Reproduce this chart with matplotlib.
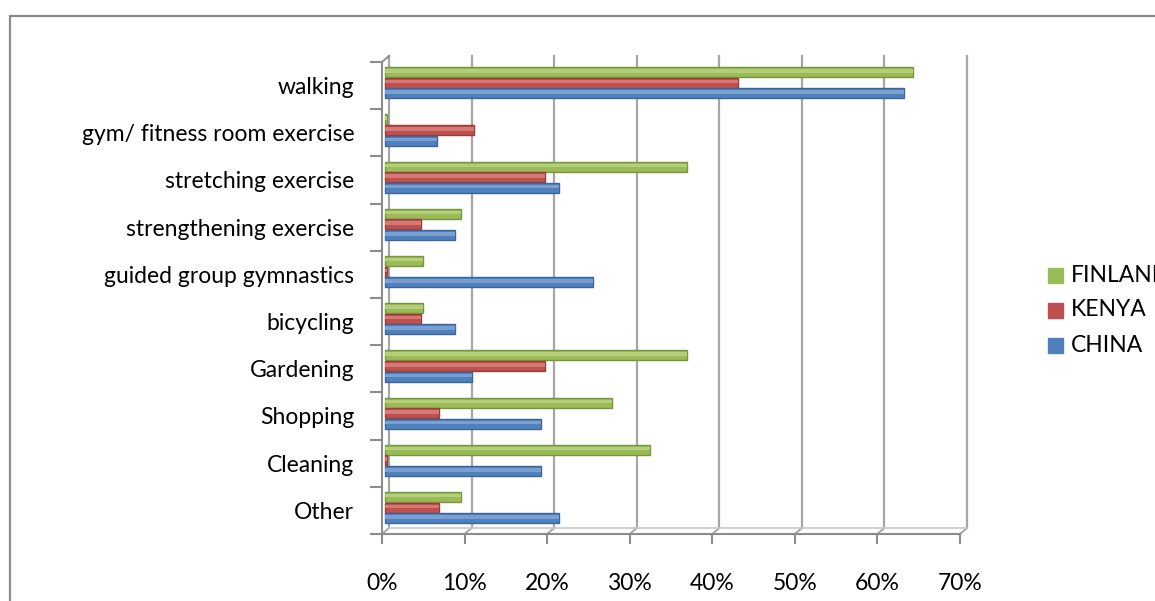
import matplotlib
matplotlib.use("Agg")
import matplotlib.pyplot as plt
import numpy as np
from matplotlib.patches import Rectangle
from matplotlib.transforms import blended_transform_factory, ScaledTranslation, IdentityTransform
from matplotlib.ticker import FixedLocator, PercentFormatter

# activities, bottom to top
categories = ['Other', 'Cleaning', 'Shopping', 'Gardening', 'bicycling',
              'guided group gymnastics', 'strengthening exercise',
              'stretching exercise', 'gym/ fitness room exercise', 'walking']
china = [21.1, 18.9, 18.9, 10.5, 8.5, 25.2, 8.5, 21.1, 6.3, 62.9]
kenya = [6.5, 0.3, 6.5, 19.4, 4.4, 0.3, 4.4, 19.4, 10.8, 42.8]
finland = [9.2, 32.1, 27.5, 36.6, 4.6, 4.6, 9.2, 36.6, 0.3, 63.9]
xticks = [0, 10, 20, 30, 40, 50, 60, 70]

colors = {'FINLAND': '#9BBB59', 'KENYA': '#C0504D', 'CHINA': '#4F81BD'}
edges = {'FINLAND': '#77963F', 'KENYA': '#983D3A', 'CHINA': '#3C659A'}
lights = {'FINLAND': '#B3CF7A', 'KENYA': '#D37A77', 'CHINA': '#79A0D0'}

plt.rcParams['font.family'] = ['Lato', 'DejaVu Sans']
fs = 16.5

W, H = 1155, 601
fig = plt.figure(figsize=(W / 100, H / 100), dpi=100)

# outer chart border (cut by the image edge on the right and bottom)
fig.patches.append(Rectangle((10 / W, -0.1), 1.2, 1 - 16 / H + 0.1,
                             transform=fig.transFigure, fill=False,
                             edgecolor='#8C8C8C', linewidth=1.6))

left, right, top, bottom = 382, 960, 62, 534
ax = fig.add_axes([left / W, 1 - bottom / H, (right - left) / W, (bottom - top) / H])
ax.set_xlim(0, 70)
ax.set_ylim(-0.5, len(categories) - 0.5)
for s in ['top', 'right']:
    ax.spines[s].set_visible(False)
ax.spines['left'].set_color('#8C8C8C')
ax.spines['bottom'].set_color('#8C8C8C')
ax.spines['left'].set_linewidth(1.5)
ax.spines['bottom'].set_linewidth(1.5)

# back wall gridlines (pseudo 3d)
dx, dy = 7 / 100, 6 / 100
blend = blended_transform_factory(ax.transData, ax.transAxes)
back = blend + ScaledTranslation(dx, dy, fig.dpi_scale_trans)
for v in xticks:
    ax.plot([v, v], [0, 1], transform=back, color='#A6A6A6', lw=1.6,
            clip_on=False, zorder=0)
    p0 = blend.transform((v, 0))
    ax.plot([p0[0], p0[0] + dx * 100], [p0[1], p0[1] + dy * 100],
            transform=IdentityTransform(), color='#A6A6A6', lw=1.4,
            clip_on=False, zorder=0)
# floor line and top edge of left wall
ax.plot([0, 70], [0, 0], transform=back, color='#C8C8C8', lw=1.2, clip_on=False, zorder=0)
p1 = blend.transform((0, 1))
ax.plot([p1[0], p1[0] + dx * 100], [p1[1], p1[1] + dy * 100],
        transform=IdentityTransform(), color='#8C8C8C', lw=1.4, clip_on=False)

y = np.arange(len(categories)) + 0.06
h = 0.21
step = 0.225
shifted = ax.transData + ScaledTranslation(3 / 100, 0, fig.dpi_scale_trans)
for name, vals, off in [('FINLAND', finland, step), ('KENYA', kenya, 0), ('CHINA', china, -step)]:
    bars = ax.barh(y + off, vals, height=h, color=colors[name],
                   edgecolor=edges[name], linewidth=1.0, zorder=3, label=name)
    hl = ax.barh(y + off + h * 0.12, vals, height=h * 0.35, color=lights[name],
                 linewidth=0, zorder=4)
    for p in list(bars) + list(hl):
        p.set_transform(shifted)

# y axis: tick marks at category boundaries, labels at centers
ax.set_yticks(np.arange(len(categories)))
ax.set_yticklabels(categories, fontsize=fs)
ax.yaxis.set_minor_locator(FixedLocator(np.arange(len(categories) + 1) - 0.5))
ax.tick_params(axis='y', which='major', length=0, pad=20)
ax.tick_params(axis='y', which='minor', length=9, width=1.5, color='#8C8C8C')

ax.set_xticks(xticks)
ax.xaxis.set_major_formatter(PercentFormatter(decimals=0))
ax.tick_params(axis='x', length=7, width=1.5, color='#8C8C8C', labelsize=fs, pad=21)

# legend drawn as separate entries; FINLAND runs past the image edge as in the source
for i, name in enumerate(['FINLAND', 'KENYA', 'CHINA']):
    ly = 1 - (275 + 35 * i) / H
    fig.patches.append(Rectangle((1048 / W, ly - 7.5 / H), 15 / W, 15 / H,
                                 transform=fig.transFigure, color=colors[name]))
    fig.text(1071 / W, ly, name, fontsize=fs, va='center', ha='left')

fig.savefig('out.png', dpi=100)
